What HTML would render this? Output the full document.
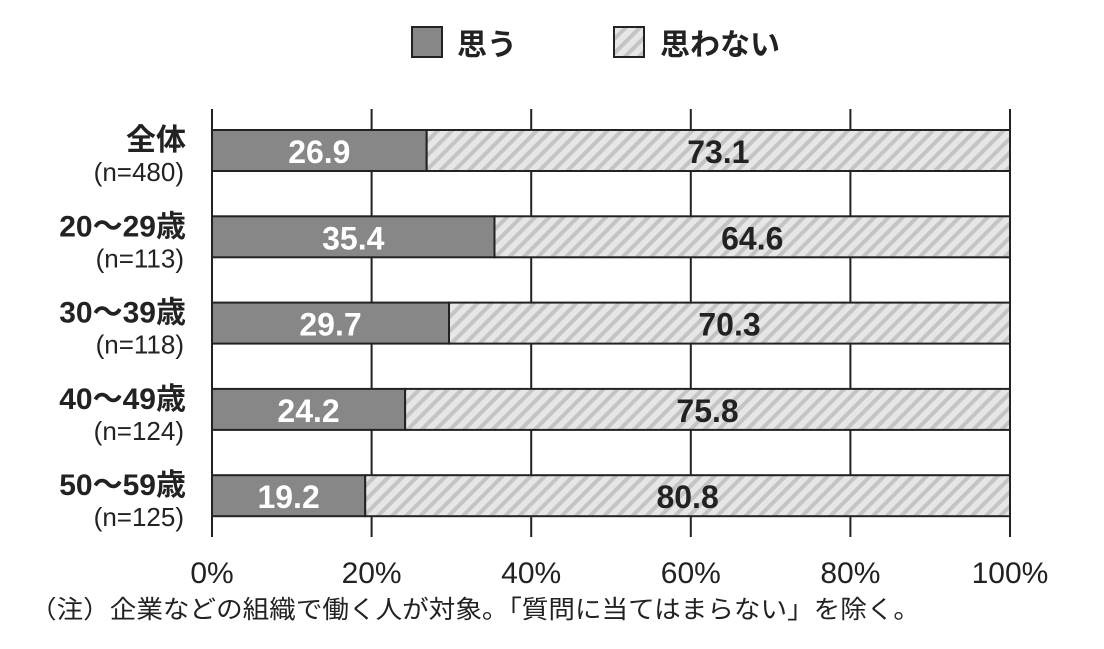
<!DOCTYPE html>
<html><head><meta charset="utf-8"><style>
body{margin:0;background:#fff;}
svg text{font-family:"Liberation Sans","Noto Sans CJK JP",sans-serif;}
</style></head><body>
<svg id="chart" width="1104" height="644" viewBox="0 0 1104 644">
<defs>
<pattern id="hatch" patternUnits="userSpaceOnUse" width="10" height="10" patternTransform="rotate(45)">
<rect width="10" height="10" fill="#e6e6e6"/>
<rect width="4" height="10" fill="#c4c4c4"/>
</pattern>
</defs>
<g>
<rect x="412" y="27" width="30" height="30" fill="#878787" stroke="#222" stroke-width="2"/>
<text x="457" y="55" font-size="30" font-weight="bold" fill="#222">思う</text>
<rect x="614" y="27" width="30" height="30" fill="url(#hatch)" stroke="#222" stroke-width="2"/>
<text x="660" y="55" font-size="30" font-weight="bold" fill="#222">思わない</text>
</g>
<g id="grid"></g>
<g id="bars"></g>
<g id="labels"></g>
<text x="30" y="618" font-size="25" fill="#222" textLength="890" lengthAdjust="spacingAndGlyphs">（注）企業などの組織で働く人が対象。「質問に当てはまらない」を除く。</text>
</svg>
<script>
const categories = ["全体","20～29歳","30～39歳","40～49歳","50～59歳"];
const sampleSizes = ["(n=480)","(n=113)","(n=118)","(n=124)","(n=125)"];
const agree = [26.9,35.4,29.7,24.2,19.2];
const disagree = [73.1,64.6,70.3,75.8,80.8];
const ticks = [0,20,40,60,80,100];
const tickLabels = ["0%","20%","40%","60%","80%","100%"];

const NS="http://www.w3.org/2000/svg";
const x0=212, x1=1010, top0=130, step=86.3, bh=41;
const xs=v=>x0+(x1-x0)*v/100;
const yb=i=>top0+i*step;
function mk(tag,attrs,parent){const e=document.createElementNS(NS,tag);for(const k in attrs)e.setAttribute(k,attrs[k]);parent.appendChild(e);return e;}
const grid=document.getElementById('grid'),bars=document.getElementById('bars'),labels=document.getElementById('labels');
ticks.forEach((t,i)=>{
  const l=mk('line',{x1:xs(t),x2:xs(t),y1:109,y2:537,stroke:'#222','stroke-width':2},grid);
  
  
  const tx=mk('text',{x:xs(t),y:583,'font-size':30,'text-anchor':'middle',fill:'#222'},grid);
  tx.textContent=tickLabels[i];
  
  
});
categories.forEach((c,i)=>{
  const y=yb(i);
  const a=mk('rect',{x:xs(0),y:y,width:xs(agree[i])-xs(0),height:bh,fill:'#878787',stroke:'#222','stroke-width':2},bars);
  
  
  const d=mk('rect',{x:xs(agree[i]),y:y,width:xs(agree[i]+disagree[i])-xs(agree[i]),height:bh,fill:'url(#hatch)',stroke:'#222','stroke-width':2},bars);
  
  
  const va=mk('text',{x:(xs(0)+xs(agree[i]))/2,y:y+33,'font-size':32,'font-weight':'bold','text-anchor':'middle',fill:'#fff'},labels);
  va.textContent=agree[i].toFixed(1);
  
  
  const vd=mk('text',{x:(xs(agree[i])+xs(agree[i]+disagree[i]))/2,y:y+33,'font-size':32,'font-weight':'bold','text-anchor':'middle',fill:'#222'},labels);
  vd.textContent=disagree[i].toFixed(1);
  
  
  const cl=mk('text',{x:186,y:y+20,'font-size':30,'font-weight':'bold','text-anchor':'end',fill:'#222'},labels);
  cl.textContent=c;
  
  
  const sl=mk('text',{x:184,y:y+51,'font-size':26,'text-anchor':'end',fill:'#222'},labels);
  sl.textContent=sampleSizes[i];
  
  
});
</script>
</body></html>
